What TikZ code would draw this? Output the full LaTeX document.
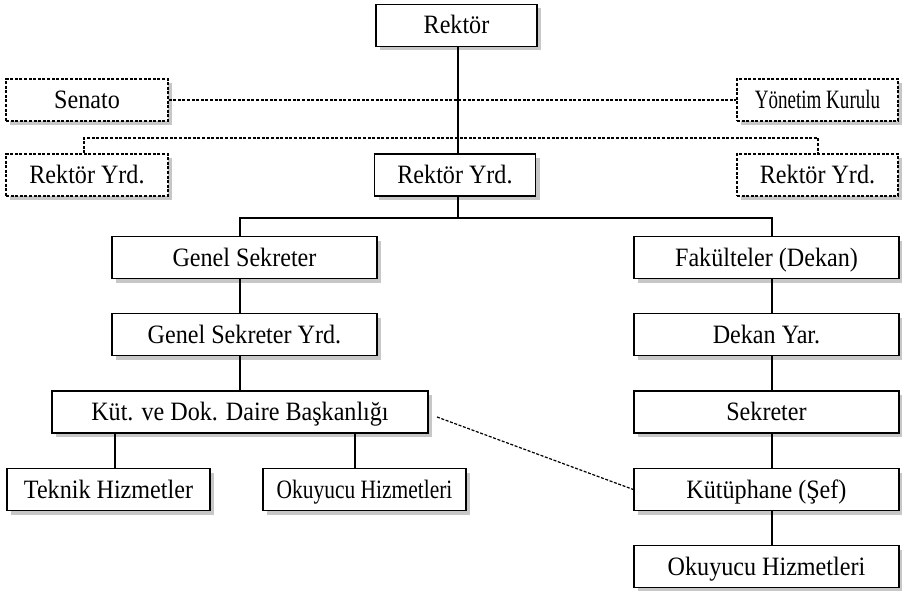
\documentclass[tikz,border=0pt]{standalone}
\usepackage{fontspec}
\setmainfont{Liberation Serif}[FakeStretch=0.91]
\usetikzlibrary{shadows}
\begin{document}
\begin{tikzpicture}[x=1pt,y=-1pt,
  box/.style={draw=black, line width=1.4pt, fill=white, inner sep=0pt, minimum height=42pt,
    font=\fontsize{26.5}{30}\selectfont, text height=17pt, text depth=0pt,
    drop shadow={shadow xshift=4pt, shadow yshift=-4pt, fill=black!22, opacity=1}},
  dbox/.style={box, dash pattern=on 3pt off 1.6pt, line width=1.2pt},
  conn/.style={line width=1.5pt},
  dconn/.style={line width=1.2pt, dash pattern=on 3pt off 1.6pt}]
\useasboundingbox (0,0) rectangle (902,591);
% nodes
\node[box, minimum width=161pt] (rektor) at (456.5,25.5) {Rektör};
\node[dbox, minimum width=162pt] (senato) at (87,100) {Senato};
\node[dbox, minimum width=161pt] (yonetim) at (817.5,100) {\scalebox{0.79}[1]{Yönetim Kurulu}};
\node[dbox, minimum width=162pt] (ryl) at (87,175) {Rektör Yrd.};
\node[box, minimum width=161pt] (ryc) at (455,175) {Rektör Yrd.};
\node[dbox, minimum width=161pt] (ryr) at (817.5,175) {Rektör Yrd.};
\node[box, minimum width=265pt] (gs) at (244.5,257.5) {Genel Sekreter};
\node[box, minimum width=265pt] (fak) at (766.5,257.5) {Fakülteler (Dekan)};
\node[box, minimum width=265pt] (gsy) at (244.5,334.5) {Genel Sekreter Yrd.};
\node[box, minimum width=265pt] (dy) at (766.5,334.5) {Dekan Yar.};
\node[box, minimum width=376pt] (kut) at (240,412) {Küt. ve Dok. Daire Başkanlığı};
\node[box, minimum width=265pt] (sek) at (766.5,412) {Sekreter};
\node[box, minimum width=203pt] (tek) at (108.5,489.5) {Teknik Hizmetler};
\node[box, minimum width=203pt] (oku) at (364.5,489.5) {\scalebox{0.89}[1]{Okuyucu Hizmetleri}};
\node[box, minimum width=265pt] (kutup) at (766.5,489.5) {Kütüphane (Şef)};
\node[box, minimum width=265pt] (okur) at (766.5,566.5) {Okuyucu Hizmetleri};
% coordinates
\coordinate (jtop) at (458,218);
\coordinate (kutd) at (437,417);
% connectors
\draw[conn] (rektor.south -| jtop) -- (ryc.north -| jtop);
\draw[dconn] (senato.east) -- (yonetim.west);
\draw[dconn] (ryl.north -| 84,0) -- (84,138) -- (818,138) -- (ryr.north -| 818,0);
\draw[conn] (ryc.south -| jtop) -- (jtop);
\draw[conn] (gs.north -| 240,0) -- (240,218) -- (772,218) -- (fak.north -| 772,0);
\draw[conn] (gs.south -| 240,0) -- (gsy.north -| 240,0);
\draw[conn] (gsy.south -| 240,0) -- (kut.north -| 240,0);
\draw[conn] (kut.south -| 115,0) -- (tek.north -| 115,0);
\draw[conn] (kut.south -| 355,0) -- (oku.north -| 355,0);
\draw[conn] (fak.south -| 772,0) -- (dy.north -| 772,0);
\draw[conn] (dy.south -| 772,0) -- (sek.north -| 772,0);
\draw[conn] (sek.south -| 772,0) -- (kutup.north -| 772,0);
\draw[conn] (kutup.south -| 772,0) -- (okur.north -| 772,0);
\draw[dconn] (kutd) -- (kutup.west);
\end{tikzpicture}
\end{document}
